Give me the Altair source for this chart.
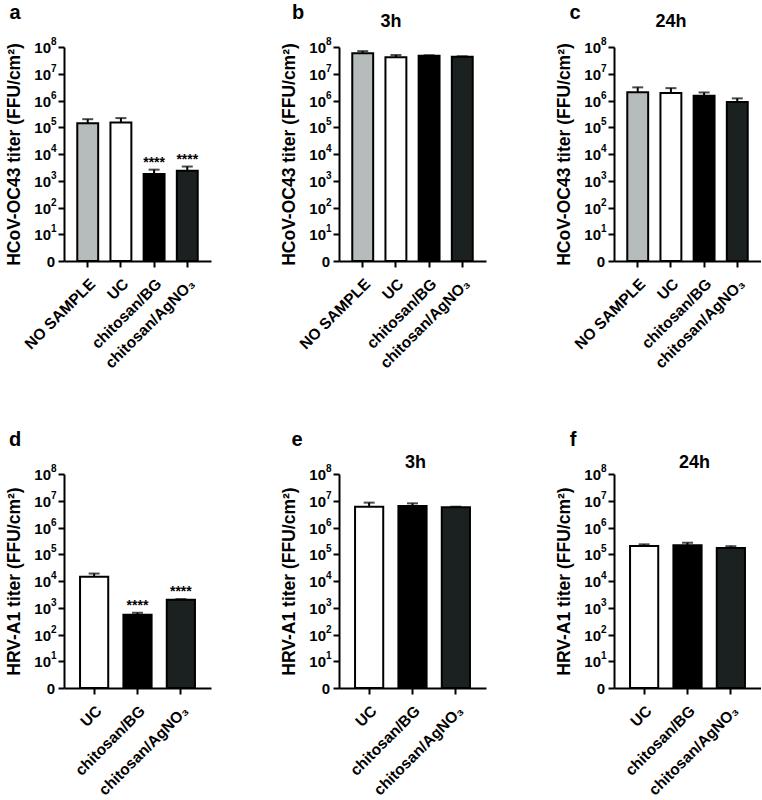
import altair as alt
import pandas as pd

# ---------------- data ----------------
cats_oc43 = ["NO SAMPLE", "UC", "chitosan/BG", "chitosan/AgNO₃"]
cats_hrv = ["UC", "chitosan/BG", "chitosan/AgNO₃"]
fills_oc43 = ["#b5bcbb", "#ffffff", "#000000", "#1b2120"]
fills_hrv = ["#ffffff", "#000000", "#1b2120"]

a_mean = [1.4e5, 1.5e5, 1.8e3, 2.35e3]
a_err = [2.0e5, 2.2e5, 2.6e3, 3.4e3]
a_stars = ["", "", "****", "****"]

b_mean = [5.8e7, 4.1e7, 4.7e7, 4.3e7]
b_err = [7.0e7, 5.0e7, 4.9e7, 4.5e7]

c_mean = [2.05e6, 1.9e6, 1.5e6, 8.7e5]
c_err = [3.1e6, 2.9e6, 2.0e6, 1.2e6]

d_mean = [1.45e4, 5.5e2, 2.0e3]
d_err = [1.9e4, 6.5e2, 2.1e3]
d_stars = ["", "****", "****"]

e_mean = [6.0e6, 6.3e6, 5.7e6]
e_err = [8.5e6, 8.0e6, 6.0e6]

f_mean = [2.05e5, 2.15e5, 1.7e5]
f_err = [2.35e5, 2.7e5, 2.0e5]

y_ticks = [1, 10, 100, 1e3, 1e4, 1e5, 1e6, 1e7, 1e8]
tick_pow_values = [10, 100, 1e3, 1e4, 1e5, 1e6, 1e7, 1e8]
tick_pow_exps = ["1", "2", "3", "4", "5", "6", "7", "8"]

title_oc43 = "HCoV-OC43 titer (FFU/cm²)"
title_hrv = "HRV-A1 titer (FFU/cm²)"

FONT = "Liberation Sans"
W = 147
H = 214


def panel(cats, fills, mean, err, stars, ytitle, letter, letter_dx,
          sub=None, sub_over=None, sub_dx=0, sub_dy=0):
    df = pd.DataFrame({"cat": cats, "mean": mean, "err": err,
                       "stars": stars if stars else [""] * len(cats)})
    n = len(cats)

    def xenc(field):
        xscale = alt.Scale(paddingInner=0.37 if n == 4 else 0.35,
                           paddingOuter=0.4 if n == 4 else 0.37)
        xaxis = alt.Axis(title=None, labelAngle=315, labelFontSize=15.5,
                         labelFontWeight="bold", labelPadding=9)
        return alt.X(field, sort=cats, scale=xscale, axis=xaxis)

    x = xenc("cat:N")
    yscale = alt.Scale(type="log", domain=[1, 1e8], nice=False)
    yaxis = alt.Axis(values=y_ticks, labels=False, titleFontSize=17.5,
                     titleFontWeight="bold", titlePadding=34)

    base = alt.Chart(df)
    bars = base.mark_bar(stroke="black", strokeWidth=2).encode(
        x=x,
        y=alt.Y("mean:Q", scale=yscale, axis=yaxis, title=ytitle),
        y2=alt.datum(1),
        fill=alt.Fill("cat:N", scale=alt.Scale(domain=cats, range=fills), legend=None),
    )
    rule = base.mark_rule(color="black", strokeWidth=2).encode(
        x=x, y=alt.Y("mean:Q", title=ytitle), y2="err:Q")
    cap = base.mark_tick(color="black", thickness=2, size=11).encode(
        x=x, y=alt.Y("err:Q", title=ytitle))
    layers = [bars, rule, cap]
    if stars:
        star = base.mark_text(fontSize=14, fontWeight="bold", font=FONT,
                              baseline="alphabetic", dy=-3, color="black").encode(
            x=x, y=alt.Y("err:Q", title=ytitle), text="stars:N")
        layers.append(star)

    # y tick labels: "10" with superscript exponent, and "0"
    tdf = pd.DataFrame({"v": tick_pow_values, "base": ["10"] * len(tick_pow_values),
                        "exp": tick_pow_exps})
    tens = alt.Chart(tdf).mark_text(fontSize=15, fontWeight="bold", font=FONT,
                                    align="right", baseline="middle", dy=1,
                                    color="black").encode(
        x=alt.value(-13), y=alt.Y("v:Q", title=ytitle), text="base:N")
    sups = alt.Chart(tdf).mark_text(fontSize=10, fontWeight="bold", font=FONT,
                                    align="left", baseline="middle", dy=-5,
                                    color="black").encode(
        x=alt.value(-13), y=alt.Y("v:Q", title=ytitle), text="exp:N")
    zero = alt.Chart(pd.DataFrame({"v": [1], "t": ["0"]})).mark_text(
        fontSize=15, fontWeight="bold", font=FONT, align="right",
        baseline="middle", dy=1, color="black").encode(
        x=alt.value(-9), y=alt.Y("v:Q", title=ytitle), text="t:N")
    layers += [tens, sups, zero]

    lt = alt.Chart(pd.DataFrame({"t": [letter]})).mark_text(
        fontSize=20, fontWeight="bold", font=FONT, align="center",
        baseline="alphabetic", color="black").encode(
        x=alt.value(letter_dx), y=alt.value(-28), text="t:N")
    layers.append(lt)
    if sub:
        st = alt.Chart(pd.DataFrame({"t": [sub], "cat": [sub_over]})).mark_text(
            fontSize=18, fontWeight="bold", font=FONT, align="center",
            baseline="middle", dx=sub_dx, color="black").encode(
            x=xenc("cat:N"), y=alt.value(sub_dy), text="t:N")
        layers.append(st)
    return alt.layer(*layers).properties(width=W, height=H)


pa = panel(cats_oc43, fills_oc43, a_mean, a_err, a_stars, title_oc43, "a", -49)
pb = panel(cats_oc43, fills_oc43, b_mean, b_err, None, title_oc43, "b", -41,
           "3h", "UC", -5, -25)
pc = panel(cats_oc43, fills_oc43, c_mean, c_err, None, title_oc43, "c", -39,
           "24h", "UC", 0, -25)
pd_ = panel(cats_hrv, fills_hrv, d_mean, d_err, d_stars, title_hrv, "d", -49)
pe = panel(cats_hrv, fills_hrv, e_mean, e_err, None, title_hrv, "e", -42,
           "3h", "chitosan/BG", 3, -11)
pf = panel(cats_hrv, fills_hrv, f_mean, f_err, None, title_hrv, "f", -41,
           "24h", "chitosan/BG", 7, -11)

chart = alt.concat(pa, pb, pc, pd_, pe, pf, columns=3, bounds="flush",
                   spacing={"row": 213, "column": 128}).properties(
    padding={"left": 5, "top": 3, "right": 0, "bottom": 0}
).configure(
    font=FONT
).configure_axis(
    domainColor="black", domainWidth=2, tickColor="black", tickWidth=2,
    tickSize=6, labelColor="black", titleColor="black", grid=False,
    labelFont=FONT, titleFont=FONT,
).configure_view(stroke=None)

chart.save("out.html", embed_options={"renderer": "svg", "actions": False})
